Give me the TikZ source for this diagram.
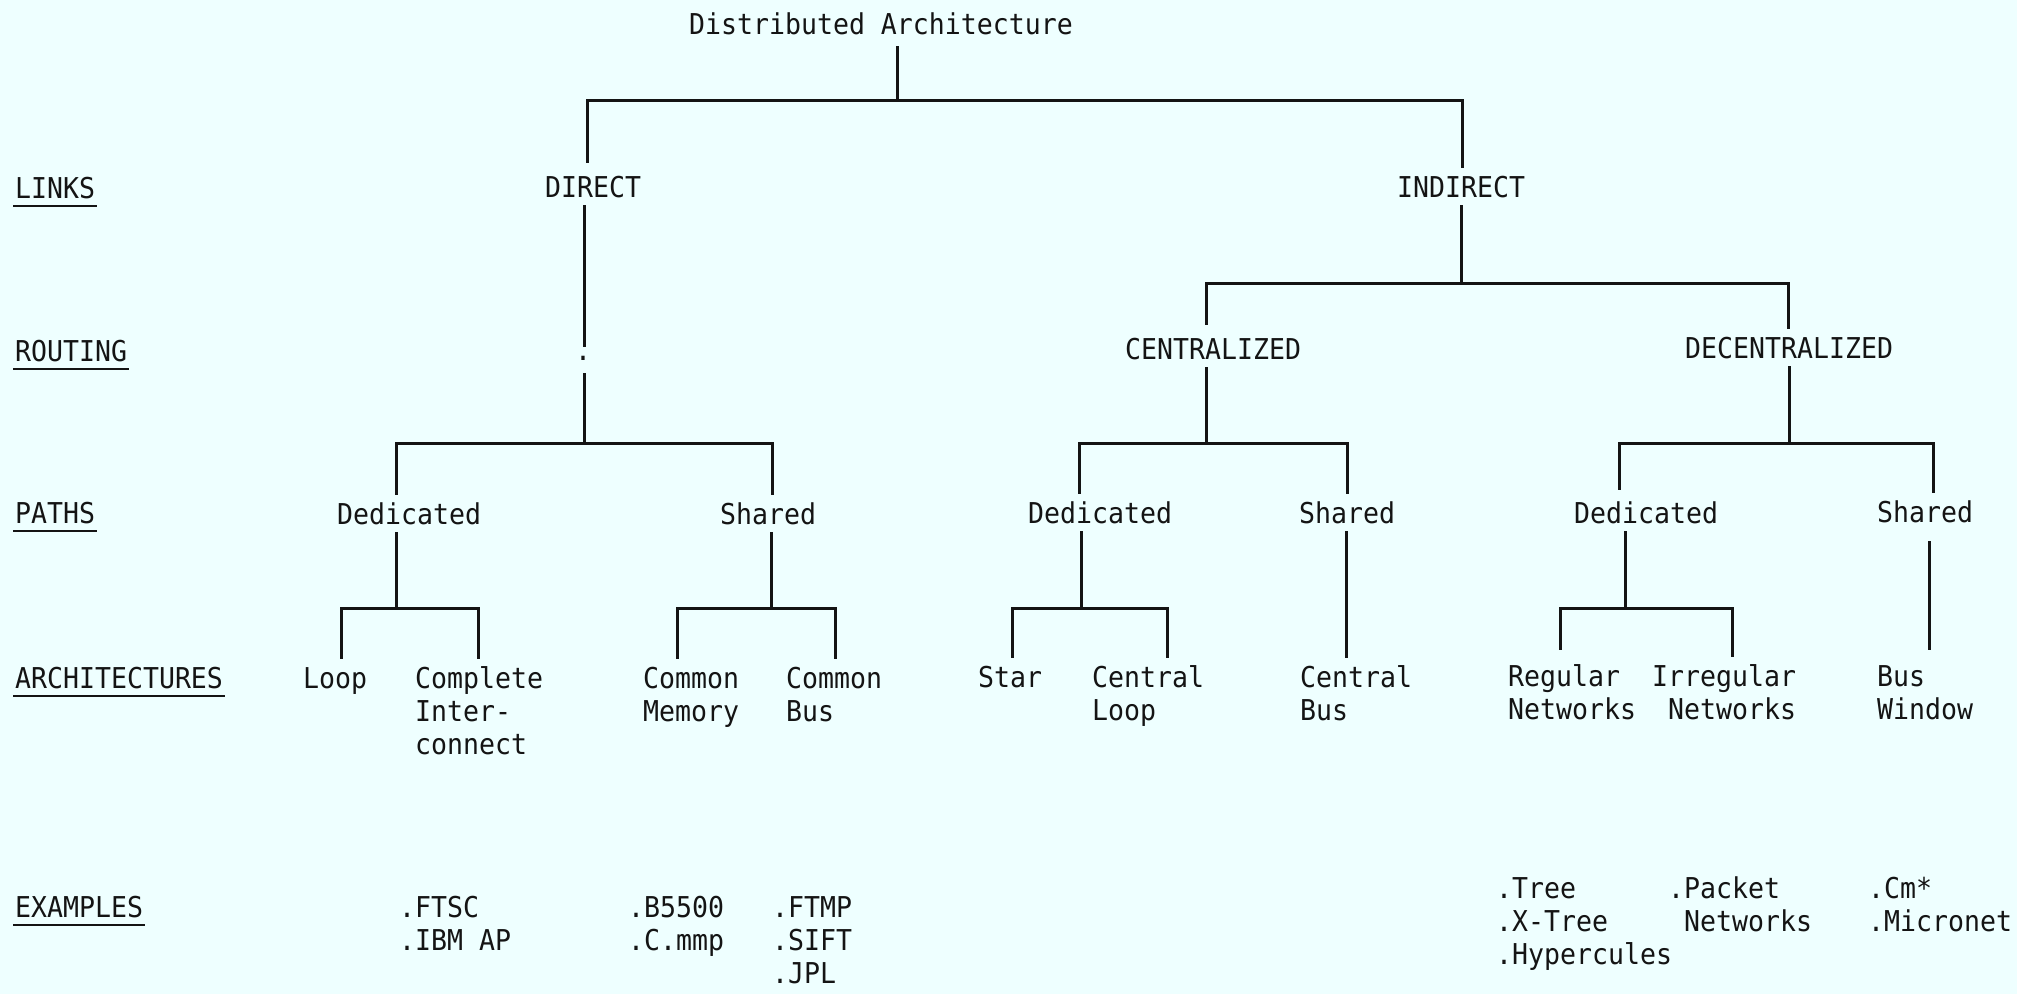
\documentclass[tikz,border=0pt]{standalone}
\usepackage{fontspec}
\newfontfamily\tw[FakeStretch=0.925]{DejaVu Sans Mono}
\usetikzlibrary{calc}
\definecolor{paper}{RGB}{238,255,255}
\definecolor{ink}{RGB}{20,20,20}
\newcommand{\ml}[1]{\begin{tabular}[t]{@{}l@{}}#1\end{tabular}}
\begin{document}
\begin{tikzpicture}[x=1pt,y=-1pt,
  lbl/.style={anchor=base west, inner sep=0pt, text height=29pt, text depth=8pt,
              font=\tw\fontsize{28.7}{33}\selectfont, text=ink},
  conn/.style={draw=ink, line width=3pt},
  ul/.style={draw=ink, line width=2pt}]
\useasboundingbox[fill=paper] (0,0) rectangle (2017,994);

% ---- row labels
\node[lbl] (links)  at (15,198) {LINKS};
\node[lbl] (routing) at (15,361) {ROUTING};
\node[lbl] (paths)  at (15,523) {PATHS};
\node[lbl] (archs)  at (15,688) {ARCHITECTURES};
\node[lbl] (exs)    at (15,917) {EXAMPLES};
\foreach \n in {links,routing,paths,archs,exs}
  \draw[ul] ($(\n.base west)+(-2,8)$) -- ($(\n.base east)+(2,8)$);

% ---- tree nodes
\node[lbl] (title)    at (689,34)   {Distributed Architecture};
\node[lbl] (direct)   at (545,197)  {DIRECT};
\node[lbl] (indirect) at (1397,197) {INDIRECT};
\node[lbl, anchor=base, text height=13pt, text depth=13pt] (dot) at (583,360) {.};
\node[lbl] (centr)    at (1125,359) {CENTRALIZED};
\node[lbl] (decentr)  at (1685,358) {DECENTRALIZED};
\node[lbl] (ded1) at (337,524)  {Dedicated};
\node[lbl] (sh1)  at (720,524)  {Shared};
\node[lbl] (ded2) at (1028,523) {Dedicated};
\node[lbl] (sh2)  at (1299,523) {Shared};
\node[lbl] (ded3) at (1574,523) {Dedicated};
\node[lbl] (sh3)  at (1877,522) {Shared};

\node[lbl] (loop)   at (303,688)  {Loop};
\node[lbl] (compl)  at (415,688)  {\ml{Complete\\Inter-\\connect}};
\node[lbl] (cmem)   at (643,688)  {\ml{Common\\Memory}};
\node[lbl] (cbus)   at (786,688)  {\ml{Common\\Bus}};
\node[lbl] (star)   at (978,687)  {Star};
\node[lbl] (cloop)  at (1092,687) {\ml{Central\\Loop}};
\node[lbl] (cbus2)  at (1300,687) {\ml{Central\\Bus}};
\node[lbl] (regnet) at (1508,686) {\ml{Regular\\Networks}};
\node[lbl] (irrnet) at (1652,686) {\ml{Irregular\\\phantom{I}Networks}};
\node[lbl] (buswin) at (1877,686) {\ml{Bus\\Window}};

\node[lbl] (ex1) at (399,917)  {\ml{.FTSC\\.IBM AP}};
\node[lbl] (ex2) at (628,917)  {\ml{.B5500\\.C.mmp}};
\node[lbl] (ex3) at (772,917)  {\ml{.FTMP\\.SIFT\\.JPL}};
\node[lbl] (ex4) at (1496,898) {\ml{.Tree\\.X-Tree\\.Hypercules}};
\node[lbl] (ex5) at (1668,898) {\ml{.Packet\\\phantom{.}Networks}};
\node[lbl] (ex6) at (1868,898) {\ml{.Cm*\\.Micronet}};

% ---- junction coordinates
\coordinate (b1M) at (897,100);  \coordinate (b1L) at (587,100);  \coordinate (b1R) at (1462,100);
\coordinate (d1)  at (584,443);  \coordinate (d1L) at (396,443);  \coordinate (d1R) at (772,443);
\coordinate (i1)  at (1461,283); \coordinate (i1L) at (1206,283); \coordinate (i1R) at (1788,283);
\coordinate (c1)  at (1206,443); \coordinate (c1L) at (1079,443); \coordinate (c1R) at (1347,443);
\coordinate (e1)  at (1789,443); \coordinate (e1L) at (1619,443); \coordinate (e1R) at (1933,443);
\coordinate (p1)  at (396,608);  \coordinate (p1L) at (341,608);  \coordinate (p1R) at (478,608);
\coordinate (p2)  at (771,608);  \coordinate (p2L) at (677,608);  \coordinate (p2R) at (835,608);
\coordinate (p3)  at (1081,608); \coordinate (p3L) at (1012,608); \coordinate (p3R) at (1167,608);
\coordinate (p4)  at (1625,608); \coordinate (p4L) at (1560,608); \coordinate (p4R) at (1732,608);
\coordinate (s2x) at (1346,600); \coordinate (s3x) at (1929,600);

% ---- connectors
\draw[conn, shorten <=4pt] (title.south -| b1M) -- (b1M);
\draw[conn, shorten <=5pt] (direct.north -| b1L) -- (b1L) -- (b1R) -- (indirect.north -| b1R);
\draw[conn] (direct.south -| d1) -- (dot.north -| d1);
\draw[conn] (dot.south -| d1) -- (d1);
\draw[conn] (ded1.north -| d1L) -- (d1L) -- (d1R) -- (sh1.north -| d1R);
\draw[conn] (indirect.south -| i1) -- (i1);
\draw[conn, shorten <=5pt] (centr.north -| i1L) -- (i1L) -- (i1R) -- (decentr.north -| i1R);
\draw[conn] (centr.south -| c1) -- (c1);
\draw[conn] (ded2.north -| c1L) -- (c1L) -- (c1R) -- (sh2.north -| c1R);
\draw[conn] (decentr.south -| e1) -- (e1);
\draw[conn, shorten <=4pt] (ded3.north -| e1L) -- (e1L) -- (e1R) -- (sh3.north -| e1R);
\draw[conn] (ded1.south -| p1) -- (p1);
\draw[conn] (loop.north -| p1L) -- (p1L) -- (p1R) -- (compl.north -| p1R);
\draw[conn] (sh1.south -| p2) -- (p2);
\draw[conn] (cmem.north -| p2L) -- (p2L) -- (p2R) -- (cbus.north -| p2R);
\draw[conn] (ded2.south -| p3) -- (p3);
\draw[conn] (star.north -| p3L) -- (p3L) -- (p3R) -- (cloop.north -| p3R);
\draw[conn] (sh2.south -| s2x) -- (cbus2.north -| s2x);
\draw[conn] (ded3.south -| p4) -- (p4);
\draw[conn, shorten <=7pt] (regnet.north -| p4L) -- (p4L) -- (p4R) -- (irrnet.north -| p4R);
\draw[conn, shorten <=11pt, shorten >=7pt] (sh3.south -| s3x) -- (buswin.north -| s3x);
\end{tikzpicture}
\end{document}
